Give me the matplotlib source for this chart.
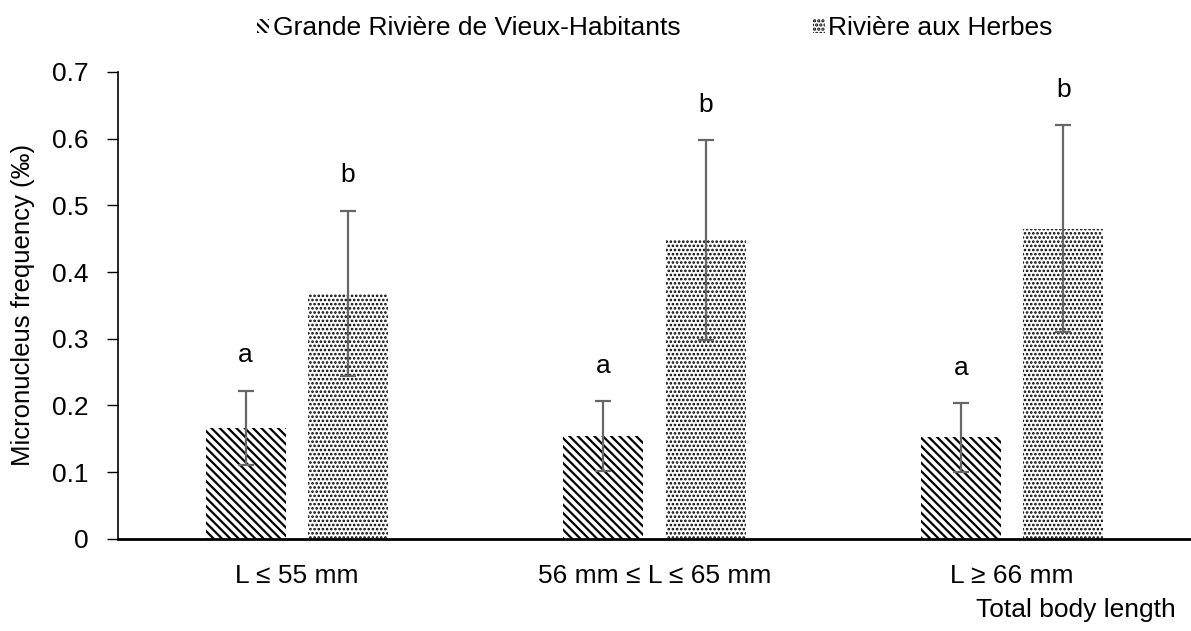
import numpy as np
import matplotlib
matplotlib.use("Agg")
import matplotlib.pyplot as plt
from matplotlib.patches import Patch

plt.rcParams["font.family"] = ["Liberation Sans", "DejaVu Sans"]
plt.rcParams["hatch.linewidth"] = 1.6

# Daten
categories = ["L ≤ 55 mm", "56 mm ≤ L ≤ 65 mm", "L ≥ 66 mm"]
series_names = ["Grande Rivière de Vieux-Habitants", "Rivière aux Herbes"]
grande_mean = [0.166, 0.154, 0.152]
grande_err = [0.056, 0.052, 0.051]
herbes_mean = [0.368, 0.448, 0.465]
herbes_err = [0.124, 0.150, 0.155]
grande_letters = ["a", "a", "a"]
herbes_letters = ["b", "b", "b"]

stripe = "\\\\\\\\"
dots = "...."


def thin_dots(patch):
    # punktmuster duenner zeichnen, wenn die matplotlib version das kann
    if hasattr(patch, "set_hatch_linewidth"):
        patch.set_hatch_linewidth(1.25)


fig = plt.figure(figsize=(11.91, 6.31), dpi=100)
ax = fig.add_axes([0.099, 0.146, 0.901, 0.74])

x = np.arange(len(categories))
w = 0.2236
off = 0.143

b1 = ax.bar(x - off, grande_mean, w, color="white", edgecolor="black",
            hatch=stripe, linewidth=0)
b2 = ax.bar(x + off, herbes_mean, w, color="white", edgecolor="black",
            hatch=dots, linewidth=0)
for p in b2:
    thin_dots(p)

ax.errorbar(x - off, grande_mean, yerr=grande_err, fmt="none", ecolor="#666666",
            elinewidth=1.6, capsize=6, capthick=1.6)
ax.errorbar(x + off, herbes_mean, yerr=herbes_err, fmt="none", ecolor="#666666",
            elinewidth=1.6, capsize=6, capthick=1.6)

# Buchstaben ueber den Fehlerbalken
for i in range(len(categories)):
    ax.text(x[i] - off, grande_mean[i] + grande_err[i] + 0.053, grande_letters[i],
            ha="center", va="center", fontsize=19)
    ax.text(x[i] + off, herbes_mean[i] + herbes_err[i] + 0.053, herbes_letters[i],
            ha="center", va="center", fontsize=19)

ax.set_xlim(-0.5, 2.5)
ax.set_ylim(0, 0.7)
ax.set_yticks([0, 0.1, 0.2, 0.3, 0.4, 0.5, 0.6, 0.7])
ax.set_yticklabels(["0", "0.1", "0.2", "0.3", "0.4", "0.5", "0.6", "0.7"])
ax.set_xticks(x)
ax.set_xticklabels(categories)
ax.tick_params(axis="y", labelsize=19, length=8, width=1, direction="out", pad=13)
ax.tick_params(axis="x", labelsize=19, length=0, pad=18)
ax.spines["top"].set_visible(False)
ax.spines["right"].set_visible(False)
ax.spines["left"].set_linewidth(1.2)
ax.spines["bottom"].set_linewidth(2)
ax.set_ylabel("Micronucleus frequency (‰)", fontsize=18.5)
ax.yaxis.set_label_coords(-0.077, 0.5)

fig.text(0.987, 0.033, "Total body length", ha="right", va="center", fontsize=19)

handles = [Patch(facecolor="white", edgecolor="black", hatch=stripe, linewidth=0),
           Patch(facecolor="white", edgecolor="black", hatch=dots, linewidth=0)]
thin_dots(handles[1])
fig.legend(handles, series_names, loc="center", bbox_to_anchor=(0.55, 0.955), ncol=2,
           frameon=False, fontsize=19, handlelength=0.45, handleheight=0.45,
           handletextpad=0.15, columnspacing=5.0)

fig.savefig("out.png", dpi=100)
